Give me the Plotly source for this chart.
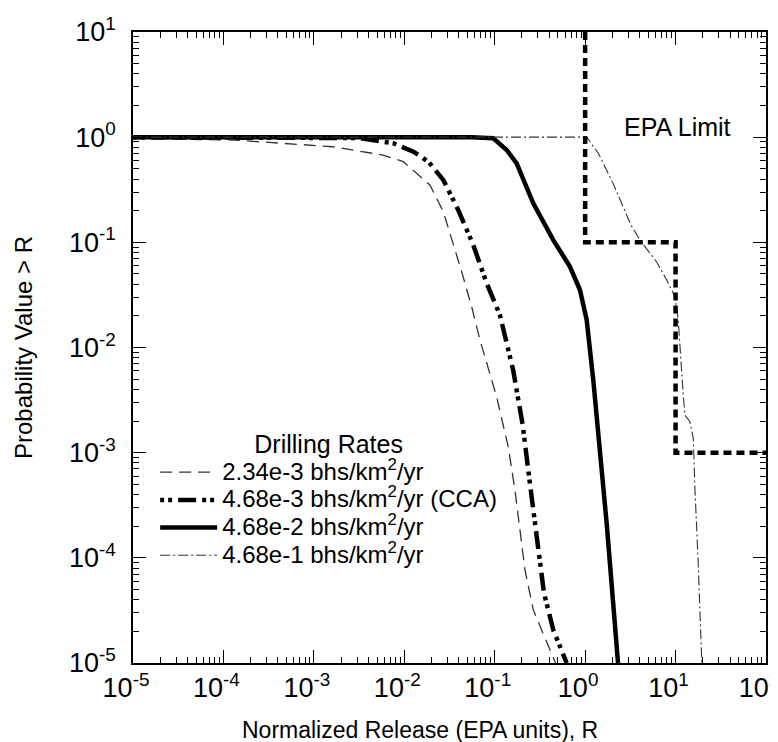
import plotly.graph_objects as go

# ---- data ----
x_234e3 = [1e-5, 1.28e-4, 1.63e-3, 5.82e-3, 9.75e-3, 0.0192, 0.0270, 0.0348, 0.0431, 0.0556,
           0.0687, 0.105, 0.141, 0.1675, 0.1905, 0.216, 0.267, 0.376, 0.44, 0.47]
y_234e3 = [0.97, 0.94, 0.811, 0.676, 0.585, 0.351, 0.196, 0.098, 0.0526, 0.0244,
           0.01178, 0.0034, 0.00114, 4.4e-4, 1.84e-4, 7.7e-5, 3.2e-5, 1.6e-5, 1.19e-5, 1e-5]

x_468e3 = [1e-5, 1.5e-3, 3.24e-3, 7.57e-3, 0.0126, 0.01845, 0.0270, 0.0395, 0.0579, 0.0815,
           0.114, 0.160, 0.204, 0.245, 0.291, 0.351, 0.445, 0.625]
y_468e3 = [1, 1, 0.98, 0.875, 0.728, 0.585, 0.392, 0.203, 0.0944, 0.0408,
           0.0204, 0.0061, 0.00183, 5.1e-4, 1.53e-4, 4.6e-5, 2.06e-5, 1e-5]

x_468e2 = [1e-5, 0.0556, 0.0964, 0.1355, 0.175, 0.267, 0.445, 0.68, 0.877, 1.04, 1.23, 1.73, 2.31]
y_468e2 = [1, 1, 0.975, 0.755, 0.564, 0.235, 0.105, 0.0586, 0.0352, 0.0183, 0.0049, 2.13e-4, 1e-5]

x_468e1 = [1e-5, 1.04, 1.40, 2.05, 3.21, 4.04, 6.18, 7.98, 9.86, 10.7, 12.2, 12.7, 14.4, 15.7,
           16.4, 17.8, 19.5]
y_468e1 = [1, 1, 0.703, 0.359, 0.146, 0.105, 0.065, 0.0438, 0.0304, 0.0183, 0.0034, 0.00228,
           0.00197, 0.00137, 4.4e-4, 8.9e-5, 1e-5]

x_epa = [1, 1, 10, 10, 100]
y_epa = [10, 0.1, 0.1, 0.001, 0.001]

names = ["2.34e-3 bhs/km<sup>2</sup>/yr", "4.68e-3 bhs/km<sup>2</sup>/yr (CCA)",
         "4.68e-2 bhs/km<sup>2</sup>/yr", "4.68e-1 bhs/km<sup>2</sup>/yr"]

x_exps = [-5, -4, -3, -2, -1, 0, 1, 2]
y_exps = [-5, -4, -3, -2, -1, 0, 1]

x_title = "Normalized Release (EPA units), R"
y_title = "Probability Value > R"

FONT = "Liberation Sans, Arial, Helvetica, sans-serif"
BIG = '<span style="font-size:24px">{}</span>'
TITLE = '<span style="font-size:25px">Drilling Rates</span>'

fig = go.Figure()
fig.add_trace(go.Scatter(x=x_234e3, y=y_234e3, mode="lines", name=BIG.format(names[0]),
                         line=dict(color="#333", width=1.3, dash="12px,7px")))
fig.add_trace(go.Scatter(x=x_468e3, y=y_468e3, mode="lines", name=BIG.format(names[1]),
                         line=dict(color="black", width=4.5, dash="4px,4px,4px,6px,18px,6px")))
fig.add_trace(go.Scatter(x=x_468e2, y=y_468e2, mode="lines", name=BIG.format(names[2]),
                         line=dict(color="black", width=4.5)))
fig.add_trace(go.Scatter(x=x_468e1, y=y_468e1, mode="lines", name=BIG.format(names[3]),
                         line=dict(color="#333", width=1.1, dash="10px,3px,2px,3px")))
fig.add_trace(go.Scatter(x=x_epa, y=y_epa, mode="lines", name="EPA Limit", showlegend=False,
                         line=dict(color="black", width=4.5, dash="8px,5px")))

def minor_vals(exps):
    vals = []
    for e in exps[:-1]:
        for m in range(2, 10):
            vals.append(m * 10.0 ** e)
    return vals

axis_common = dict(type="log", showgrid=False, zeroline=False, showline=True, automargin=False,
                   linecolor="black", linewidth=1.5, mirror="ticks", ticks="inside",
                   ticklen=13, tickwidth=1.2, tickcolor="black", ticklabeloverflow="allow",
                   tickfont=dict(family=FONT, size=27, color="black"))

fig.update_xaxes(**axis_common, range=[-5, 2], ticklabelshift=-7,
                 tickvals=[10.0 ** e for e in x_exps],
                 ticktext=[f"10<sup>{e}</sup>" for e in x_exps],
                 minor=dict(tickvals=minor_vals(x_exps), ticks="inside", ticklen=6,
                            tickwidth=1, tickcolor="black", showgrid=False))
fig.update_yaxes(**axis_common, range=[-5, 1], ticklabelstandoff=10,
                 tickvals=[10.0 ** e for e in y_exps],
                 ticktext=[f"10<sup>{e}</sup>" for e in y_exps],
                 minor=dict(tickvals=minor_vals(y_exps), ticks="inside", ticklen=6,
                            tickwidth=1, tickcolor="black", showgrid=False),
                 title=dict(text=y_title,
                            font=dict(family=FONT, size=24, color="black"), standoff=30))

# x-axis title (slightly left of centre in the reference)
fig.add_annotation(x=0.454, y=-0.106, xref="paper", yref="paper", text=x_title,
                   showarrow=False, xanchor="center", yanchor="middle",
                   font=dict(family=FONT, size=23, color="black"))

fig.add_annotation(x=1.016, y=0.097, xref="x", yref="y", text="EPA Limit", showarrow=False,
                   font=dict(family=FONT, size=25, color="black"))

fig.update_layout(
    width=770, height=734,
    margin=dict(l=125, r=12, t=24, b=79, autoexpand=False),
    plot_bgcolor="white", paper_bgcolor="white",
    font=dict(family=FONT, color="black"),
    legend=dict(x=0.035, y=0.392, xanchor="left", yanchor="top",
                bgcolor="rgba(0,0,0,0)", itemwidth=57,
                font=dict(family=FONT, size=19, color="black"),
                title=dict(text=TITLE, side="top center",
                           font=dict(family=FONT, size=29, color="black")),
                tracegroupgap=0),
)

fig.write_html("out.html")
